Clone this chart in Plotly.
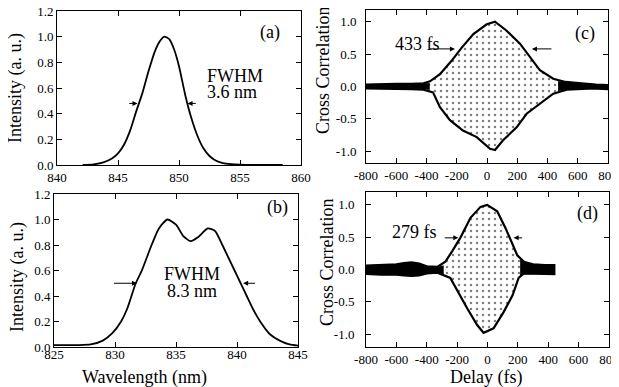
import plotly.graph_objects as go

# ---------------- data ----------------
# (a) narrow spectrum
a_wl = [842.1, 843.0, 843.8, 844.5, 845.0, 845.5, 846.0, 846.5, 847.0, 847.5, 848.0, 848.4, 848.8,
        849.2, 849.6, 850.0, 850.5, 851.0, 851.5, 852.0, 852.5, 853.0, 853.6, 854.3, 855.0, 856.0, 858.5]
a_int = [0.0, 0.005, 0.02, 0.05, 0.09, 0.16, 0.27, 0.42, 0.56, 0.73, 0.88, 0.96, 1.0,
         0.98, 0.9, 0.77, 0.55, 0.37, 0.23, 0.13, 0.07, 0.035, 0.015, 0.006, 0.002, 0.0, 0.0]

# (b) broad double-peaked spectrum
b_wl = [825.0, 827.0, 828.0, 829.0, 829.8, 830.5, 831.0, 831.7, 832.2, 833.0, 833.6, 834.3, 835.0,
        835.6, 836.2, 836.8, 837.6, 838.2, 838.8, 839.3, 839.8, 840.3, 840.8, 841.3, 841.9, 842.7,
        843.5, 844.3, 845.0]
b_int = [0.015, 0.015, 0.02, 0.05, 0.11, 0.2, 0.3, 0.5, 0.6, 0.8, 0.93, 1.0, 0.96,
         0.87, 0.83, 0.86, 0.93, 0.91, 0.8, 0.7, 0.6, 0.5, 0.4, 0.3, 0.2, 0.1,
         0.05, 0.02, 0.01]

# (c) cross-correlation envelope, 433 fs
c_up_x = [-800, -700, -600, -500, -420, -377, -311, -233, -167, -90, -2, 53, 130, 218, 284, 350, 438, 520, 570, 650, 720, 800]
c_up_y = [0.03, 0.04, 0.04, 0.04, 0.05, 0.08, 0.19, 0.40, 0.60, 0.81, 0.96, 1.0, 0.86, 0.66, 0.45, 0.25, 0.12, 0.07, 0.06, 0.04, 0.03, 0.02]
c_lo_x = [-800, -700, -600, -500, -420, -357, -311, -245, -159, -68, 20, 53, 106, 196, 262, 350, 438, 527, 600, 700, 800]
c_lo_y = [-0.03, -0.03, -0.04, -0.04, -0.05, -0.09, -0.32, -0.52, -0.68, -0.78, -0.96, -0.98, -0.83, -0.63, -0.42, -0.27, -0.11, -0.05, -0.04, -0.03, -0.04]
c_band_l_x = [-800, -700, -600, -500, -420, -380]
c_band_l_hi = [0.03, 0.035, 0.035, 0.035, 0.04, 0.05]
c_band_l_lo = [-0.03, -0.03, -0.035, -0.035, -0.04, -0.05]
c_band_r_x = [470, 520, 570, 650, 720, 800]
c_band_r_hi = [0.08, 0.06, 0.05, 0.04, 0.03, 0.02]
c_band_r_lo = [-0.07, -0.045, -0.04, -0.03, -0.03, -0.035]

# (d) cross-correlation envelope, 279 fs
d_up_x = [-800, -700, -600, -550, -500, -450, -400, -330, -278, -233, -179, -112, -46, -2, 64, 119, 163, 196, 240, 300, 380, 440]
d_up_y = [0.06, 0.07, 0.08, 0.10, 0.11, 0.09, 0.05, 0.04, 0.12, 0.28, 0.49, 0.80, 0.97, 1.0, 0.90, 0.64, 0.41, 0.22, 0.12, 0.08, 0.07, 0.07]
d_lo_x = [-800, -700, -600, -550, -500, -450, -400, -330, -245, -179, -134, -68, -26, 40, 106, 165, 205, 238, 300, 380, 440]
d_lo_y = [-0.07, -0.08, -0.08, -0.09, -0.10, -0.09, -0.06, -0.05, -0.13, -0.40, -0.60, -0.86, -0.98, -0.91, -0.66, -0.40, -0.13, -0.06, -0.07, -0.07, -0.07]
d_band_l_x = [-800, -700, -600, -550, -500, -450, -400, -330, -290]
d_band_l_hi = [0.06, 0.07, 0.08, 0.10, 0.11, 0.09, 0.05, 0.04, 0.06]
d_band_l_lo = [-0.07, -0.08, -0.08, -0.09, -0.10, -0.09, -0.06, -0.05, -0.07]
d_band_r_x = [215, 250, 300, 380, 440]
d_band_r_hi = [0.17, 0.1, 0.08, 0.07, 0.07]
d_band_r_lo = [-0.1, -0.07, -0.07, -0.07, -0.07]

# tick labels
a_ticks = [840, 845, 850, 855, 860]
b_ticks = [825, 830, 835, 840, 845]
spec_yticks = [0.0, 0.2, 0.4, 0.6, 0.8, 1.0, 1.2]
spec_ylabels = ["0.0", "0.2", "0.4", "0.6", "0.8", "1.0", "1.2"]
delay_ticks = [-800, -600, -400, -200, 0, 200, 400, 600, 800]
delay_labels = ["-800", "-600", "-400", "-200", "0", "200", "400", "600", "800"]
xc_yticks = [-1.0, -0.5, 0.0, 0.5, 1.0]
xc_ylabels = ["-1.0", "-0.5", "0.0", "0.5", "1.0"]

# ---------------- figure ----------------
# the page body adds an 8 px margin at top/left; size the figure so it reaches the window edges
PAGE_W, PAGE_H, OFF = 619, 387, 8
W, H = PAGE_W - OFF, PAGE_H - OFF
SERIF = "Liberation Serif, Times New Roman, serif"
fig = go.Figure()

def px_x(p):
    return (p - OFF) / W

def px_y(p):
    return 1 - (p - OFF) / H

# spectra
fig.add_trace(go.Scatter(x=a_wl, y=a_int, mode="lines", line=dict(color="black", width=1.8, shape="spline", smoothing=0.6),
                         xaxis="x", yaxis="y", showlegend=False))
fig.add_trace(go.Scatter(x=b_wl, y=b_int, mode="lines", line=dict(color="black", width=1.8, shape="spline", smoothing=0.6),
                         xaxis="x2", yaxis="y2", showlegend=False))

pattern = dict(shape=".", fgcolor="black", bgcolor="white", size=6, solidity=0.14)

def cloud(ux, uy, lx, ly, xa, ya):
    xs = list(ux) + list(reversed(lx))
    ys = list(uy) + list(reversed(ly))
    fig.add_trace(go.Scatter(x=xs, y=ys, mode="lines", fill="toself", fillpattern=pattern, fillcolor="white",
                             line=dict(color="black", width=2.2), xaxis=xa, yaxis=ya, showlegend=False))

def band(bx, hi, lo, xa, ya):
    xs = list(bx) + list(reversed(bx))
    ys = list(hi) + list(reversed(lo))
    fig.add_trace(go.Scatter(x=xs, y=ys, mode="lines", fill="toself", fillcolor="black",
                             line=dict(color="black", width=0.5), xaxis=xa, yaxis=ya, showlegend=False))

cloud(c_up_x, c_up_y, c_lo_x, c_lo_y, "x3", "y3")
band(c_band_l_x, c_band_l_hi, c_band_l_lo, "x3", "y3")
band(c_band_r_x, c_band_r_hi, c_band_r_lo, "x3", "y3")
cloud(d_up_x, d_up_y, d_lo_x, d_lo_y, "x4", "y4")
band(d_band_l_x, d_band_l_hi, d_band_l_lo, "x4", "y4")
band(d_band_r_x, d_band_r_hi, d_band_r_lo, "x4", "y4")

axis_common = dict(showline=True, linecolor="black", linewidth=1, mirror="ticks", ticks="inside",
                   ticklen=5, tickcolor="black", tickwidth=1, showgrid=False, zeroline=False,
                   ticklabeloverflow="allow",
                   tickfont=dict(family=SERIF, size=13, color="black"))

fig.update_layout(
    width=W, height=H, margin=dict(l=0, r=0, t=0, b=0, autoexpand=False),
    paper_bgcolor="white", plot_bgcolor="white", showlegend=False,
    xaxis=dict(domain=[px_x(57), px_x(301)], range=[840, 860], tickvals=a_ticks,
               ticktext=[str(t) for t in a_ticks], anchor="y", **axis_common),
    yaxis=dict(domain=[px_y(165), px_y(11)], range=[0, 1.2], tickvals=spec_yticks,
               ticktext=spec_ylabels, anchor="x", **axis_common),
    xaxis2=dict(domain=[px_x(54), px_x(298)], range=[825, 845], tickvals=b_ticks,
                ticktext=[str(t) for t in b_ticks], anchor="y2", ticklabelstandoff=-5, **axis_common),
    yaxis2=dict(domain=[px_y(347), px_y(194)], range=[0, 1.2], tickvals=spec_yticks,
                ticktext=spec_ylabels, anchor="x2", **axis_common),
    xaxis3=dict(domain=[px_x(366), px_x(608)], range=[-800, 800], tickvals=delay_ticks,
                ticktext=delay_labels, anchor="y3", **axis_common),
    yaxis3=dict(domain=[px_y(163), px_y(10)], range=[-1.18, 1.18], tickvals=xc_yticks,
                ticktext=xc_ylabels, anchor="x3", ticklabelstandoff=6, **axis_common),
    xaxis4=dict(domain=[px_x(366), px_x(609)], range=[-800, 800], tickvals=delay_ticks,
                ticktext=delay_labels, anchor="y4", **axis_common),
    yaxis4=dict(domain=[px_y(347), px_y(192)], range=[-1.2, 1.2], tickvals=xc_yticks,
                ticktext=xc_ylabels, anchor="x4", ticklabelstandoff=8, **axis_common),
)

def label(text, xp, yp, size=18, angle=0, xanchor="center"):
    fig.add_annotation(text=text, x=px_x(xp), y=px_y(yp), xref="paper", yref="paper",
                       showarrow=False, textangle=angle, xanchor=xanchor, yanchor="middle",
                       font=dict(family=SERIF, size=size, color="black"))

# axis titles
label("Intensity (a. u.)", 16, 88, angle=-90)
label("Intensity (a. u.)", 17, 277, angle=-90)
label("Cross Correlation", 323, 70, angle=-90)
label("Cross Correlation", 327, 262, angle=-90)
label("Wavelength (nm)", 144, 377)
label("Delay (fs)", 486, 377)

# panel labels and texts
label("(a)", 270, 32)
label("(b)", 277, 207)
label("(c)", 585, 34)
label("(d)", 587, 213)
label("FWHM", 205, 76, xanchor="left")
label("3.6 nm", 205, 92, xanchor="left")
label("FWHM", 192, 274)
label("8.3 nm", 192, 291)
label("433 fs", 417, 44)
label("279 fs", 414, 232)

def arrow(xa, ya, tail_x, head_x, yv):
    fig.add_annotation(x=head_x, y=yv, ax=tail_x, ay=yv, xref=xa, yref=ya, axref=xa, ayref=ya,
                       text="", showarrow=True, arrowhead=2, arrowsize=1, arrowwidth=1,
                       arrowcolor="black")

arrow("x", "y", 845.8, 846.6, 0.48)
arrow("x", "y", 851.5, 850.7, 0.48)
arrow("x2", "y2", 829.8, 831.8, 0.5)
arrow("x2", "y2", 841.6, 840.5, 0.5)
arrow("x3", "y3", -390, -212, 0.58)
arrow("x3", "y3", 436, 297, 0.58)
arrow("x4", "y4", -291, -192, 0.49)
arrow("x4", "y4", 238, 172, 0.49)

fig.write_html("out.html")
